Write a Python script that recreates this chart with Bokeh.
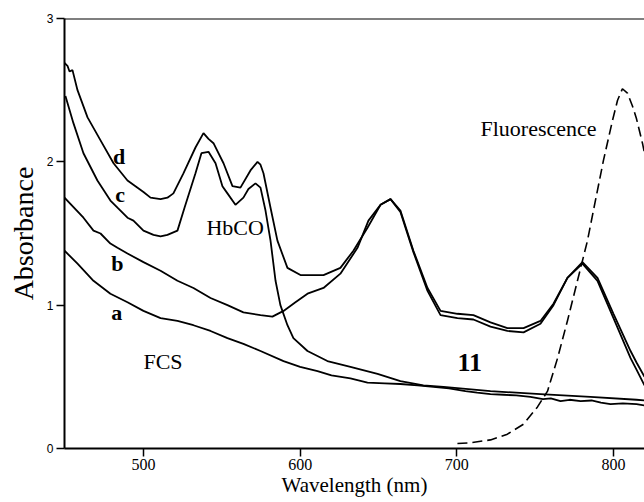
from bokeh.plotting import figure
from bokeh.models import Range1d, Label, Span, FixedTicker
from bokeh.embed import file_html
from bokeh.resources import INLINE

# ---- data ----
wl_a = [449.6, 457.9, 468.1, 478.9, 489.8, 500.0, 510.9, 521.7, 531.9, 542.8, 553.6, 563.8,
        574.7, 589.4, 600.0, 611.1, 620.0, 632.1, 643.0, 654.0, 664.0, 675.0, 685.1, 695.0,
        705.5, 713.0, 721.5, 730.0, 738.0, 747.0, 755.0, 760.0, 766.2, 772.0, 779.0, 786.0,
        792.0, 798.1, 806.0, 814.7, 819.8]
abs_a = [1.38, 1.29, 1.17, 1.08, 1.02, 0.96, 0.91, 0.89, 0.86, 0.82, 0.77, 0.73,
         0.68, 0.61, 0.57, 0.54, 0.51, 0.49, 0.46, 0.455, 0.45, 0.44, 0.43, 0.42,
         0.40, 0.39, 0.38, 0.375, 0.37, 0.36, 0.345, 0.35, 0.33, 0.34, 0.33, 0.335,
         0.32, 0.31, 0.315, 0.31, 0.30]

wl_b = [449.6, 461.7, 468.1, 472.6, 478.9, 483.4, 489.8, 500.0, 510.9, 521.7, 531.9, 542.8,
        553.6, 563.8, 574.7, 582.3, 589.4, 597.0, 604.7, 614.9, 625.7, 636.6, 643.6, 651.3,
        657.7, 664.0, 672.3, 681.3, 689.6, 700.4, 710.6, 721.5, 732.3, 742.6, 753.4, 761.7,
        770.6, 780.2, 789.8, 800.0, 810.9, 814.7, 819.8]
abs_b = [1.75, 1.61, 1.52, 1.50, 1.43, 1.40, 1.36, 1.30, 1.24, 1.17, 1.12, 1.05,
         1.00, 0.95, 0.93, 0.92, 0.96, 1.02, 1.08, 1.12, 1.22, 1.40, 1.59, 1.70,
         1.74, 1.65, 1.37, 1.10, 0.93, 0.91, 0.90, 0.85, 0.82, 0.81, 0.87, 1.00,
         1.19, 1.29, 1.17, 0.91, 0.63, 0.55, 0.44]

wl_c = [450.2, 455.3, 461.7, 470.6, 478.9, 483.4, 489.8, 493.6, 500.0, 506.4, 510.9, 515.3,
        521.7, 526.2, 533.2, 537.0, 541.5, 546.0, 550.4, 553.6, 558.7, 563.8, 567.0, 571.5,
        574.7, 577.9, 581.1, 584.3, 587.4, 591.9, 595.7, 604.7, 617.4, 632.1, 649.4, 664.0,
        678.7, 691.5, 721.5, 753.4, 785.3, 814.7, 819.8]
abs_c = [2.46, 2.27, 2.06, 1.87, 1.73, 1.68, 1.61, 1.59, 1.52, 1.49, 1.48, 1.49,
         1.52, 1.68, 1.92, 2.06, 2.07, 1.99, 1.83, 1.78, 1.70, 1.75, 1.81, 1.85,
         1.82, 1.66, 1.45, 1.17, 1.00, 0.86, 0.77, 0.68, 0.61, 0.57, 0.52, 0.47,
         0.44, 0.43, 0.40, 0.38, 0.36, 0.34, 0.335]

wl_d = [449.6, 451.5, 452.8, 454.7, 457.9, 464.3, 472.6, 480.9, 489.8, 500.0, 504.5, 510.9,
        515.3, 519.1, 525.5, 533.2, 538.3, 541.5, 544.7, 551.1, 556.8, 561.9, 568.3, 572.8,
        574.7, 576.6, 581.1, 585.5, 591.9, 600.2, 614.9, 625.7, 634.0, 643.0, 651.3, 657.7,
        664.0, 672.3, 681.3, 689.6, 700.4, 710.6, 721.5, 732.3, 742.6, 753.4, 761.7, 770.6,
        780.2, 789.8, 800.0, 810.9, 814.7, 819.8]
abs_d = [2.69, 2.67, 2.63, 2.64, 2.50, 2.31, 2.15, 1.99, 1.87, 1.79, 1.75, 1.74,
         1.75, 1.78, 1.92, 2.10, 2.20, 2.16, 2.13, 1.99, 1.83, 1.82, 1.94, 2.00,
         1.98, 1.92, 1.68, 1.45, 1.26, 1.21, 1.21, 1.26, 1.38, 1.54, 1.70, 1.74,
         1.66, 1.38, 1.12, 0.96, 0.94, 0.93, 0.88, 0.84, 0.84, 0.89, 1.01, 1.19,
         1.30, 1.19, 0.94, 0.68, 0.60, 0.50]

wl_fl = [700.4, 708.7, 721.5, 732.3, 742.6, 751.5, 757.9, 764.3, 770.6, 777.0, 783.4, 787.2,
         793.6, 799.4, 802.6, 805.7, 808.9, 812.1, 814.7, 818.5, 819.8]
abs_fl = [0.035, 0.04, 0.06, 0.10, 0.17, 0.29, 0.40, 0.63, 0.89, 1.17, 1.45, 1.66,
          2.01, 2.29, 2.43, 2.51, 2.48, 2.39, 2.30, 2.13, 2.06]

y_ticks = [0, 1, 2, 3]
x_ticks = [500, 600, 700, 800]

SERIF = "Liberation Serif"

p = figure(width=644, height=502, output_backend="svg", toolbar_location=None,
           x_range=Range1d(449.6, 819.8), y_range=Range1d(0, 3),
           min_border_left=64, min_border_right=0, min_border_top=18, min_border_bottom=54)
p.outline_line_color = None
p.grid.visible = False
p.background_fill_color = "white"
p.border_fill_color = "white"

for ax in (p.xaxis, p.yaxis):
    ax.axis_line_width = 2
    ax.axis_line_color = "black"
    ax.major_tick_line_width = 1.5
    ax.major_tick_line_color = "black"
    ax.major_tick_out = 8
    ax.major_tick_in = 0
    ax.minor_tick_line_color = None
    ax.major_label_text_color = "black"
    ax.axis_label_text_color = "black"
    ax.axis_label_text_font = SERIF
    ax.axis_label_text_font_style = "normal"

p.xaxis.ticker = FixedTicker(ticks=x_ticks)
p.yaxis.ticker = FixedTicker(ticks=y_ticks)
p.xaxis.major_label_text_font = SERIF
p.xaxis.major_label_text_font_size = "16px"
p.xaxis.major_label_standoff = 2
p.yaxis.major_label_text_font = "Liberation Sans"
p.yaxis.major_label_text_font_size = "12px"
p.yaxis.major_label_standoff = 3

p.xaxis.axis_label = "Wavelength (nm)"
p.xaxis.axis_label_text_font_size = "21px"
p.xaxis.axis_label_standoff = 0

p.yaxis.axis_label = "Absorbance"
p.yaxis.axis_label_text_font_size = "28px"
p.yaxis.axis_label_standoff = 5

p.add_layout(Span(location=3, dimension="width", line_color="black", line_width=2))

lw = 1.8
p.line(wl_a, abs_a, line_color="black", line_width=lw)
p.line(wl_b, abs_b, line_color="black", line_width=lw)
p.line(wl_c, abs_c, line_color="black", line_width=lw)
p.line(wl_d, abs_d, line_color="black", line_width=lw)
p.line(wl_fl, abs_fl, line_color="black", line_width=1.6, line_dash="10 5")

def lab(x, y, t, size, bold=False, align="left"):
    p.add_layout(Label(x=x, y=y, text=t, text_font=SERIF, text_font_size=size,
                       text_font_style="bold" if bold else "normal",
                       text_align=align, text_baseline="alphabetic",
                       text_color="black"))

lab(480.5, 2.04, "d", "22px", bold=True)
lab(482.0, 1.77, "c", "22px", bold=True)
lab(479.5, 1.29, "b", "22px", bold=True)
lab(479.5, 0.95, "a", "22px", bold=True)
lab(540.2, 1.54, "HbCO", "22px")
lab(500.0, 0.61, "FCS", "22px")
lab(700.4, 0.60, "11", "26px", bold=True)
lab(715.1, 2.23, "Fluorescence", "22px")

open("out.html", "w").write(file_html(p, INLINE))
